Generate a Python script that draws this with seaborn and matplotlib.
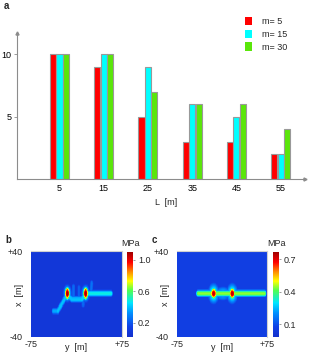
import numpy as np
import pandas as pd
import matplotlib
matplotlib.use("Agg")
import matplotlib.pyplot as plt
from matplotlib.colors import LinearSegmentedColormap
from matplotlib.patches import Patch
import seaborn as sns

# ---------------- data ----------------
L_labels = ["5", "15", "25", "35", "45", "55"]
m_labels = ["m= 5", "m= 15", "m= 30"]
vals_m5 = [10, 9, 5, 3, 3, 2]
vals_m15 = [10, 10, 9, 6, 5, 2]
vals_m30 = [10, 10, 7, 6, 6, 4]
bar_colors = ["#ff0000", "#00ffff", "#5ae60a"]

# stress-field features read from panels b and c (y [m], x [m], MPa)
# segments: (y0, x0, y1, x1, value)
b_segments = [
    (-38, -16, -31, -16, 0.36),
    (-31, -16, -17, -2, 0.40),
    (-13, -2, -8, -5, 0.40),
    (-8, -5, 9, -5, 0.40),
    (9, -5, 14, -1, 0.42),
    (16, 0.5, 57, 0.5, 0.48),
    (-5, -4, -5, 7, 0.24),
    (4, -4, 4, 6, 0.22),
    (24, 0.5, 25, 10, 0.26),
    (11, -5, 11, -10, 0.24),
]
# peaks: (y, x, value, sigma_y, sigma_x)
b_peaks = [(-15, 0.6, 1.10, 3.4, 4.6), (15, 0.6, 1.10, 3.4, 4.6),
           (-15, 0.6, 0.45, 5.5, 6.5), (15, 0.6, 0.45, 5.5, 6.5)]
b_background = 0.08
b_range = (0.02, 1.10)
b_ticks = [0.2, 0.6, 1.0]

c_segments = [
    (-40, 0.5, 71, 0.5, 0.44),
]
c_peaks = [(-14, 0.5, 0.74, 4.0, 4.0), (17, 0.5, 0.74, 4.0, 4.0),
           (-14, 0.5, 0.32, 7.0, 7.5), (17, 0.5, 0.32, 7.0, 7.5),
           (1.5, 0.5, 0.24, 10.0, 5.0)]
c_background = 0.06
c_range = (-0.02, 0.765)
c_ticks = [0.1, 0.4, 0.7]

# ---------------- style ----------------
sns.set_theme(style="white")
plt.rcParams["font.family"] = ["Liberation Sans", "DejaVu Sans"]
FS = 6.5
GRAY = "#8c8c8c"

fig = plt.figure(figsize=(3.11, 3.61), dpi=100)
W, H = 311.0, 361.0


def fx(px):
    return px / W


def fy(py):
    return 1 - py / H


# ---------------- panel a ----------------
ax = fig.add_axes([fx(17), fy(179), fx(305) - fx(17), fy(33) - fy(179)])
df = pd.DataFrame({
    "L": L_labels * 3,
    "m": [m_labels[0]] * 6 + [m_labels[1]] * 6 + [m_labels[2]] * 6,
    "v": vals_m5 + vals_m15 + vals_m30,
})
sns.barplot(data=df, x="L", y="v", hue="m", hue_order=m_labels,
            palette=bar_colors, width=0.44, gap=0.06, edgecolor="#999999",
            linewidth=0.8, saturation=1, ax=ax, legend=False)
ax.set_xlim(-0.96, 5.55)
ax.set_ylim(0, 11.7)
ax.set_yticks([5, 10])
ax.set_yticklabels(["5", "10"])
ax.set_xlabel("")
ax.set_ylabel("")
for s in ["top", "right"]:
    ax.spines[s].set_visible(False)
for s in ["left", "bottom"]:
    ax.spines[s].set_color(GRAY)
    ax.spines[s].set_linewidth(0.8)
ax.tick_params(axis="y", left=True, length=2.5, width=0.6, color=GRAY,
               pad=1.5, labelsize=FS, labelcolor="black")
ax.tick_params(axis="x", bottom=False, length=0, pad=3.5, labelsize=FS,
               labelcolor="black")
ax.plot(1, 0, ">", color=GRAY, ms=2.2, transform=ax.transAxes, clip_on=False)
ax.plot(0, 1, "^", color=GRAY, ms=2.2, transform=ax.transAxes, clip_on=False)
handles = [Patch(facecolor=c, edgecolor="none") for c in bar_colors]
ax.legend(handles, m_labels, loc="upper left", bbox_to_anchor=(fx(245), fy(17)),
          bbox_transform=fig.transFigure, frameon=False, fontsize=FS,
          borderpad=0, borderaxespad=0, handlelength=0.8, handleheight=1.0,
          handletextpad=1.1, labelspacing=0.4)
fig.text(fx(166), fy(203), "L  [m]", ha="center", va="center", fontsize=FS)
fig.text(fx(4), fy(6), "a", ha="left", va="center", fontsize=7, fontweight="bold")

# ---------------- panels b, c ----------------
cmap = LinearSegmentedColormap.from_list("stress", [
    (0.0, "#1430cc"), (0.12, "#1040e6"), (0.28, "#0090ff"), (0.40, "#00e6ff"),
    (0.55, "#50ff50"), (0.66, "#ffff00"), (0.77, "#ff8a00"), (0.88, "#ff0000"),
    (1.0, "#a00000")])

yy = np.linspace(-75, 75, 301)
xx = np.linspace(40, -40, 161)
Y, X = np.meshgrid(yy, xx)


def field(segments, peaks, background, seg_s=2.6):
    out = np.full(Y.shape, background)
    for (y0, x0, y1, x1, v) in segments:
        dy, dx = y1 - y0, x1 - x0
        L2 = dy * dy + dx * dx
        t = np.clip(((Y - y0) * dy + (X - x0) * dx) / L2, 0, 1)
        d = np.hypot(Y - (y0 + t * dy), X - (x0 + t * dx))
        out = np.maximum(out, v * np.exp(-0.5 * (d / seg_s) ** 3))
    for (py, px, v, sy, sx) in peaks:
        r = np.hypot((Y - py) / sy, (X - px) / sx)
        out = np.maximum(out, v * np.exp(-0.5 * r ** 3))
    return out


def stress_panel(left, right, cb_left, segs, peaks, bg, rng, ticks, letter,
                 letter_x, lab_x):
    axh = fig.add_axes([fx(left), fy(337), fx(right) - fx(left), fy(251) - fy(337)])
    cax = fig.add_axes([fx(cb_left), fy(337), fx(6), fy(252) - fy(337)])
    Z = field(segs, peaks, bg)
    sns.heatmap(Z, ax=axh, cbar_ax=cax, cmap=cmap, vmin=rng[0], vmax=rng[1],
                xticklabels=False, yticklabels=False, rasterized=True)
    n_r, n_c = Z.shape
    axh.set_xticks([0, n_c])
    axh.set_xticklabels(["-75", "+75"])
    axh.set_yticks([0, n_r])
    axh.set_yticklabels(["+40", "-40"], rotation=0)
    axh.tick_params(length=0, labelsize=FS, pad=2.5)
    axh.tick_params(axis="y", pad=6)
    for s in ["left", "bottom"]:
        axh.spines[s].set_visible(False)
    for s in ["top", "right"]:
        axh.spines[s].set_visible(True)
        axh.spines[s].set_color("#d0d0d0")
        axh.spines[s].set_linewidth(0.8)
    axh.set_xlabel("y  [m]", fontsize=FS, labelpad=-5)
    axh.set_ylabel("")
    fig.text(fx(lab_x), fy(295), "x  [m]", rotation=90, ha="center",
             va="center", fontsize=FS)
    cb = axh.collections[0].colorbar
    cb.set_ticks(ticks)
    cb.set_ticklabels([f"{t:.1f}" for t in ticks])
    cb.outline.set_visible(False)
    cax.tick_params(length=1.5, width=0.6, color=GRAY, labelsize=FS, pad=2)
    fig.text(fx(cb_left + 4), fy(244), "MPa", ha="center", va="center",
             fontsize=FS)
    fig.text(fx(letter_x), fy(240), letter, ha="left", va="center",
             fontsize=7, fontweight="bold")


stress_panel(31, 122, 127, b_segments, b_peaks, b_background, b_range, b_ticks,
             "b", 5, 19)
stress_panel(177, 267, 273, c_segments, c_peaks, c_background, c_range, c_ticks,
             "c", 152, 166)

fig.savefig("out.png", dpi=100)
